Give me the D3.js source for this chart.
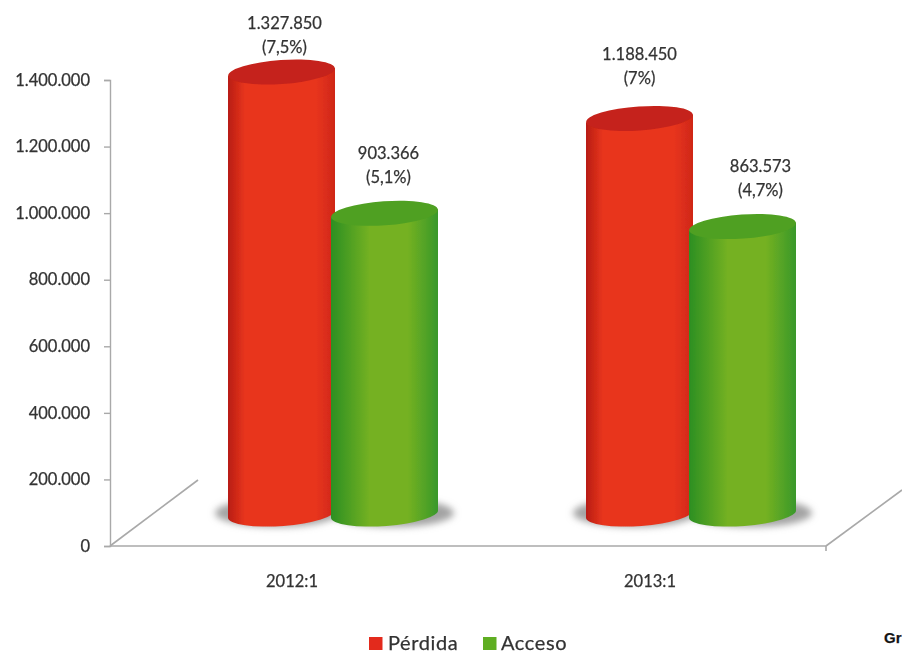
<!DOCTYPE html>
<html>
<head>
<meta charset="utf-8">
<script src="https://cdn.jsdelivr.net/npm/d3@7"></script>
<style>
  html, body { margin: 0; background: #fff; overflow: hidden; }
  svg { display: block; }
  text { font-family: Lato, sans-serif; fill: #333; stroke: #333; stroke-width: 0.25; }
</style>
</head>
<body>
<div class="vis"></div>
<script>
'use strict';

var periods = ['2012:1', '2013:1'];
var seriesNames = ['Pérdida', 'Acceso'];
var perdida = [1327850, 1188450];
var acceso = [903366, 863573];
var perdidaPct = ['7,5%', '7%'];
var accesoPct = ['5,1%', '4,7%'];
var yTicks = [0, 200000, 400000, 600000, 800000, 1000000, 1200000, 1400000];
var footerText = 'Gr';

(function () {
  var width = 902;
  var height = 654;

  var colors = {
    'Pérdida': { dark: '#b81d13', mid: '#e8351d', edge: '#cf2718', top: '#c5241a', swatch: '#e3291f',
      stops: [[0, 0], [0.16, 1], [0.82, 1], [1, 2]] },
    'Acceso': { dark: '#2c8f24', mid: '#74b122', edge: '#39982a', top: '#4fa021', swatch: '#5fae24',
      stops: [[0, 0], [0.36, 1], [0.72, 1], [1, 2]] }
  };

  var locale = d3.formatLocale({ decimal: ',', thousands: '.', grouping: [3], currency: ['', ''] });
  var fmt = locale.format(',d');

  var svg = d3.select('.vis').append('svg')
    .attr('width', width)
    .attr('height', height);

  var defs = svg.append('defs');

  // jpeg softness of the original
  defs.append('filter').attr('id', 'soft')
    .append('feGaussianBlur').attr('stdDeviation', 0.5);
  defs.append('filter').attr('id', 'shadow')
    .attr('x', '-20%').attr('width', '140%').attr('y', '-60%').attr('height', '220%')
    .append('feGaussianBlur').attr('stdDeviation', 3.5);

  seriesNames.forEach(function (name, i) {
    var c = colors[name];
    var shades = [c.dark, c.mid, c.edge];
    var grad = defs.append('linearGradient').attr('id', 'body' + i);
    c.stops.forEach(function (s) {
      grad.append('stop').attr('offset', s[0]).attr('stop-color', shades[s[1]]);
    });
  });

  // axis scale, and the same scale lifted up to the floor of the 3d box
  var y = d3.scaleLinear().domain([0, 1400000]).range([546, 80]);
  var floorLift = 32;
  var x0 = d3.scaleBand().domain(periods).range([154, 870]);
  var x1 = d3.scaleBand().domain(seriesNames).range([-103, 103]);

  var rows = [];
  periods.forEach(function (p, i) {
    rows.push({ period: p, series: 'Pérdida', value: perdida[i], pct: perdidaPct[i], s: 0 });
    rows.push({ period: p, series: 'Acceso', value: acceso[i], pct: accesoPct[i], s: 1 });
  });

  var rx = 53.5;
  var ry = 12;
  var tilt = -4;
  var rise = 4;

  function barLeft(d) { return x0(d.period) + x0.bandwidth() / 2 + x1(d.series) - 2; }
  function barTop(d) { return y(d.value) - floorLift; }
  function barBase() { return y(0) - floorLift; }

  // floor lines
  var floor = svg.append('g').attr('filter', 'url(#soft)')
    .attr('stroke', '#a9a9a9').attr('stroke-width', 1.6).attr('fill', 'none');
  floor.append('path').attr('d', d3.line()([[110, y(0)], [198, 480]]));
  floor.append('path').attr('d', d3.line()([[826, y(0)], [902, 490]]));
  floor.append('path').attr('d', d3.line()([[110, y(0)], [826, y(0)]]));
  floor.append('path').attr('d', d3.line()([[826, y(0)], [826, y(0) + 5]]));

  var axis = svg.append('g')
    .attr('transform', 'translate(110,0)')
    .call(d3.axisLeft(y).tickValues(yTicks).tickFormat(fmt).tickSize(6).tickPadding(14));
  axis.selectAll('path, line').attr('stroke', '#a9a9a9').attr('stroke-width', 1.4);
  axis.selectAll('text')
    .style('font-family', 'Lato, sans-serif')
    .attr('font-size', 16.5)
    .attr('filter', 'url(#soft)');

  // shadows on the floor
  svg.append('g').selectAll('ellipse').data(rows).enter().append('ellipse')
    .attr('cx', function (d) { return barLeft(d) + rx + (d.s ? 8 : -5); })
    .attr('cy', function () { return barBase() - 1; })
    .attr('rx', rx + 8)
    .attr('ry', ry + 2)
    .attr('fill', '#a3a3a3')
    .attr('filter', 'url(#shadow)');

  var bars = svg.append('g').attr('filter', 'url(#soft)')
    .selectAll('g').data(rows).enter().append('g');

  bars.append('path')
    .attr('fill', function (d) { return 'url(#body' + d.s + ')'; })
    .attr('d', function (d) {
      var l = barLeft(d);
      var r = l + 2 * rx;
      var t = barTop(d);
      var b = barBase();
      return 'M' + l + ',' + (t + rise) + 'L' + l + ',' + (b + rise) +
        'A' + rx + ',' + ry + ' ' + tilt + ' 0 0 ' + r + ',' + (b - rise) +
        'L' + r + ',' + (t - rise) + 'Z';
    });

  bars.append('ellipse')
    .attr('cx', function (d) { return barLeft(d) + rx; })
    .attr('cy', barTop)
    .attr('rx', rx)
    .attr('ry', ry)
    .attr('fill', function (d) { return colors[d.series].top; })
    .attr('transform', function (d) {
      return 'rotate(' + tilt + ',' + (barLeft(d) + rx) + ',' + barTop(d) + ')';
    });

  // value labels were placed by hand in the original
  var labelNudge = [[3, 43], [4, 54], [0, 58], [18, 55]];
  var labels = svg.append('g').attr('filter', 'url(#soft)')
    .attr('text-anchor', 'middle').attr('font-size', 16.5)
    .selectAll('g').data(rows).enter().append('g')
    .attr('transform', function (d, i) {
      return 'translate(' + (barLeft(d) + rx + labelNudge[i][0]) + ',' + (barTop(d) - labelNudge[i][1]) + ')';
    });
  labels.append('text').text(function (d) { return fmt(d.value); });
  labels.append('text').attr('y', 24).text(function (d) { return '(' + d.pct + ')'; });

  // category labels
  svg.append('g').attr('filter', 'url(#soft)')
    .selectAll('text').data(periods).enter().append('text')
    .attr('x', function (d) { return x0(d) + x0.bandwidth() / 2 - 41; })
    .attr('y', 587)
    .attr('text-anchor', 'middle')
    .attr('font-size', 16.5)
    .text(function (d) { return d; });

  // legend
  var legendX = [369, 483];
  var legend = svg.append('g').attr('filter', 'url(#soft)')
    .selectAll('g').data(seriesNames).enter().append('g')
    .attr('transform', function (d, i) { return 'translate(' + legendX[i] + ',637)'; });
  legend.append('rect').attr('width', 13.5).attr('height', 13)
    .attr('fill', function (d) { return colors[d].swatch; });
  legend.append('text')
    .attr('x', function (d, i) { return i ? 18 : 19; })
    .attr('y', 13)
    .attr('font-size', 20)
    .attr('letter-spacing', 0.6)
    .text(function (d) { return d; });

  svg.append('text')
    .attr('x', 884).attr('y', 643)
    .style('font-family', '"Liberation Sans", sans-serif')
    .style('fill', '#111')
    .attr('font-size', 15)
    .attr('font-weight', 700)
    .text(footerText);
})();
</script>
</body>
</html>
